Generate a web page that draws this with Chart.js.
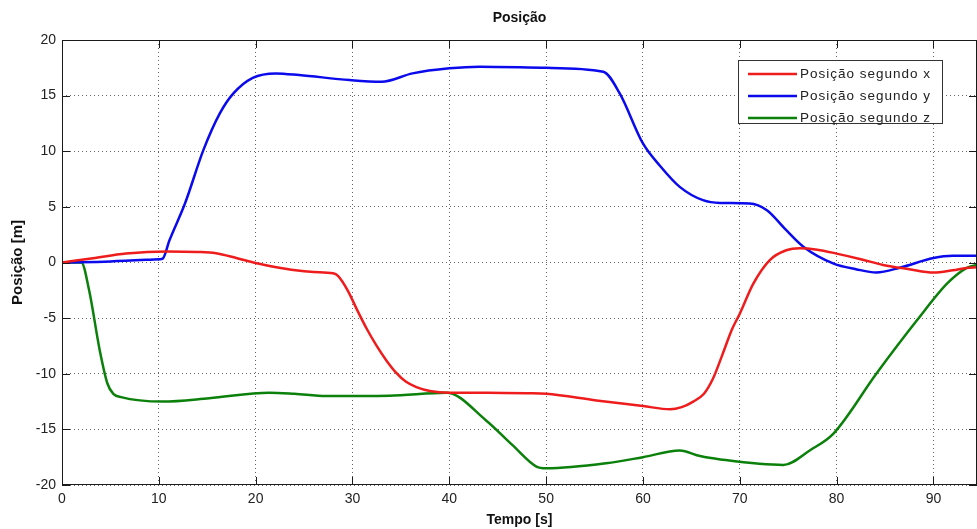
<!DOCTYPE html>
<html>
<head>
<meta charset="utf-8">
<title>Posição</title>
<script src="https://cdn.jsdelivr.net/npm/chart.js@4.4.0/dist/chart.umd.min.js"></script>
<style>
	html, body { margin: 0; padding: 0; background: #fff; overflow: hidden; }
	#wrap { position: relative; width: 977px; height: 529px; }
</style>
</head>
<body>
<div id="wrap"><canvas id="chart"></canvas></div>
<script>
// dados (tempo em s, posição em m)
const tempoX = [0, 3.2, 6.6, 10.8, 14, 15.9, 18, 20.1, 22, 23.9, 26, 28, 28.5, 29.5, 30.5, 31.5, 32.5, 33.5, 34.5, 35.5, 36.6, 38, 40, 44, 48, 50, 55.2, 60, 62.8, 64, 65.2, 66.3, 67.2, 68.2, 69.2, 70, 71.4, 73.1, 74.8, 76.2, 78, 80, 82.5, 84.8, 87.5, 90, 92, 93.4, 94.5];
const posX = [0, 0.38, 0.8, 1.0, 0.95, 0.83, 0.4, -0.07, -0.4, -0.67, -0.85, -0.97, -1.2, -2.5, -4.3, -6.0, -7.5, -8.8, -9.9, -10.7, -11.2, -11.55, -11.7, -11.7, -11.75, -11.8, -12.4, -12.9, -13.2, -13.0, -12.5, -11.8, -10.5, -8.3, -6.0, -4.6, -1.9, 0.22, 1.1, 1.28, 1.15, 0.8, 0.3, -0.22, -0.6, -0.9, -0.7, -0.5, -0.42];

const tempoY = [0, 5, 10.1, 10.4, 11.1, 12.7, 14.6, 16.3, 17.7, 19.7, 22.1, 24.5, 29.7, 33, 36.2, 40, 43.1, 50, 55.9, 57.6, 60, 61.75, 63.8, 66.2, 68, 71, 72.8, 74.7, 76.6, 79.7, 82, 84.1, 86.6, 90, 92, 94.5];
const posY = [0, 0.1, 0.3, 0.35, 2.0, 5.3, 10.1, 13.4, 15.2, 16.6, 17.0, 16.85, 16.4, 16.25, 17.0, 17.45, 17.6, 17.5, 17.15, 15.2, 10.7, 8.7, 6.8, 5.6, 5.35, 5.3, 4.7, 3.0, 1.4, -0.1, -0.6, -0.9, -0.45, 0.4, 0.6, 0.6];

const tempoZ = [0, 2, 2.8, 3.9, 4.7, 5.3, 6.1, 10.4, 15.2, 21.4, 24, 27.3, 33.8, 39.7, 43.8, 46.5, 49, 50, 56.2, 60, 63.8, 65.9, 68, 74.5, 77.3, 79.7, 84.1, 88.3, 91.4, 93.4, 94.5];
const posZ = [0, 0, -2.5, -7.9, -10.9, -11.8, -12.1, -12.5, -12.2, -11.7, -11.8, -12.0, -11.97, -11.7, -14.2, -16.4, -18.35, -18.5, -18.05, -17.5, -16.9, -17.4, -17.7, -18.2, -16.85, -15.35, -10.0, -5.2, -1.9, -0.5, -0.2];

const nomes = ['Posição segundo x', 'Posição segundo y', 'Posição segundo z'];
const cores = ['#ee1c1c', '#0a0aec', '#0b800b'];

const fonte = '"Liberation Sans", Arial, Helvetica, sans-serif';

function pontos(ts, vs) {
	return ts.map((t, i) => ({ x: t, y: vs[i] }));
}

// moldura no estilo matlab: caixa fechada e marcas para dentro
const moldura = {
	id: 'moldura',
	afterDatasetsDraw(chart) {
		const { ctx, chartArea: a, scales } = chart;
		ctx.save();
		ctx.strokeStyle = '#1a1a1a';
		ctx.lineWidth = 1;
		ctx.strokeRect(a.left + 0.5, a.top + 0.5, a.right - a.left - 1, a.bottom - a.top - 1);
		ctx.beginPath();
		scales.x.ticks.forEach((t) => {
			const px = Math.round(scales.x.getPixelForValue(t.value)) + 0.5;
			ctx.moveTo(px, a.bottom); ctx.lineTo(px, a.bottom - 8);
			ctx.moveTo(px, a.top); ctx.lineTo(px, a.top + 8);
		});
		scales.y.ticks.forEach((t) => {
			const py = Math.round(scales.y.getPixelForValue(t.value)) + 0.5;
			ctx.moveTo(a.left, py); ctx.lineTo(a.left + 8, py);
			ctx.moveTo(a.right, py); ctx.lineTo(a.right - 8, py);
		});
		ctx.stroke();
		ctx.restore();
	},
	afterDraw(chart) {
		// legenda dentro do gráfico, canto superior direito
		const ctx = chart.ctx;
		const bx = 738.5, by = 60.5, bw = 204, bh = 63;
		ctx.save();
		ctx.fillStyle = '#fff';
		ctx.fillRect(bx, by, bw, bh);
		ctx.strokeStyle = '#333';
		ctx.lineWidth = 1;
		ctx.strokeRect(bx, by, bw, bh);
		ctx.font = '13.5px ' + fonte;
		ctx.letterSpacing = '1px';
		ctx.textBaseline = 'middle';
		ctx.fillStyle = '#222';
		chart.data.datasets.forEach((ds, i) => {
			const y = 74 + i * 22;
			ctx.strokeStyle = ds.borderColor;
			ctx.lineWidth = 2.5;
			ctx.beginPath();
			ctx.moveTo(748, y); ctx.lineTo(797, y);
			ctx.stroke();
			ctx.fillText(ds.label, 800, y);
		});
		ctx.restore();
	}
};

const data = {
	datasets: [
		{ label: nomes[0], data: pontos(tempoX, posX), borderColor: cores[0] },
		{ label: nomes[1], data: pontos(tempoY, posY), borderColor: cores[1] },
		{ label: nomes[2], data: pontos(tempoZ, posZ), borderColor: cores[2] }
	].map((ds) => Object.assign(ds, {
		showLine: true,
		pointRadius: 0,
		borderWidth: 2.5,
		fill: false,
		cubicInterpolationMode: 'monotone'
	}))
};

const grade = {
	color: 'rgba(0, 0, 0, 0.6)',
	lineWidth: 1,
	drawTicks: false
};

const config = {
	type: 'scatter',
	data: data,
	plugins: [moldura],
	options: {
		responsive: true,
		maintainAspectRatio: false,
		animation: false,
		layout: { padding: 0 },
		plugins: {
			legend: { display: false },
			tooltip: { enabled: false },
			title: {
				display: true,
				text: 'Posição',
				fullSize: false,
				color: '#111',
				font: { family: fonte, size: 14, weight: 'bold' },
				padding: { top: 9.6, bottom: 13.6 }
			}
		},
		scales: {
			x: {
				type: 'linear',
				min: 0,
				max: 94.5,
				grid: grade,
				border: { display: false, dash: [1, 3] },
				ticks: {
					stepSize: 10,
					includeBounds: false,
					padding: 6,
					color: '#222',
					font: { family: fonte, size: 14 }
				},
				title: {
					display: true,
					text: 'Tempo [s]',
					color: '#111',
					font: { family: fonte, size: 14, weight: 'bold' },
					padding: { top: 1, bottom: 0 }
				},
				afterFit(scale) { scale.height = 44; }
			},
			y: {
				min: -20,
				max: 20,
				grid: grade,
				border: { display: false, dash: [1, 3] },
				ticks: {
					stepSize: 5,
					padding: 6,
					color: '#222',
					font: { family: fonte, size: 14 }
				},
				title: {
					display: true,
					text: 'Posição [m]',
					color: '#111',
					font: { family: fonte, size: 15, weight: 'bold' },
					padding: { top: 9, bottom: 0 }
				},
				afterFit(scale) { scale.width = 62; }
			}
		}
	}
};

new Chart(document.getElementById('chart').getContext('2d'), config);
</script>
</body>
</html>
